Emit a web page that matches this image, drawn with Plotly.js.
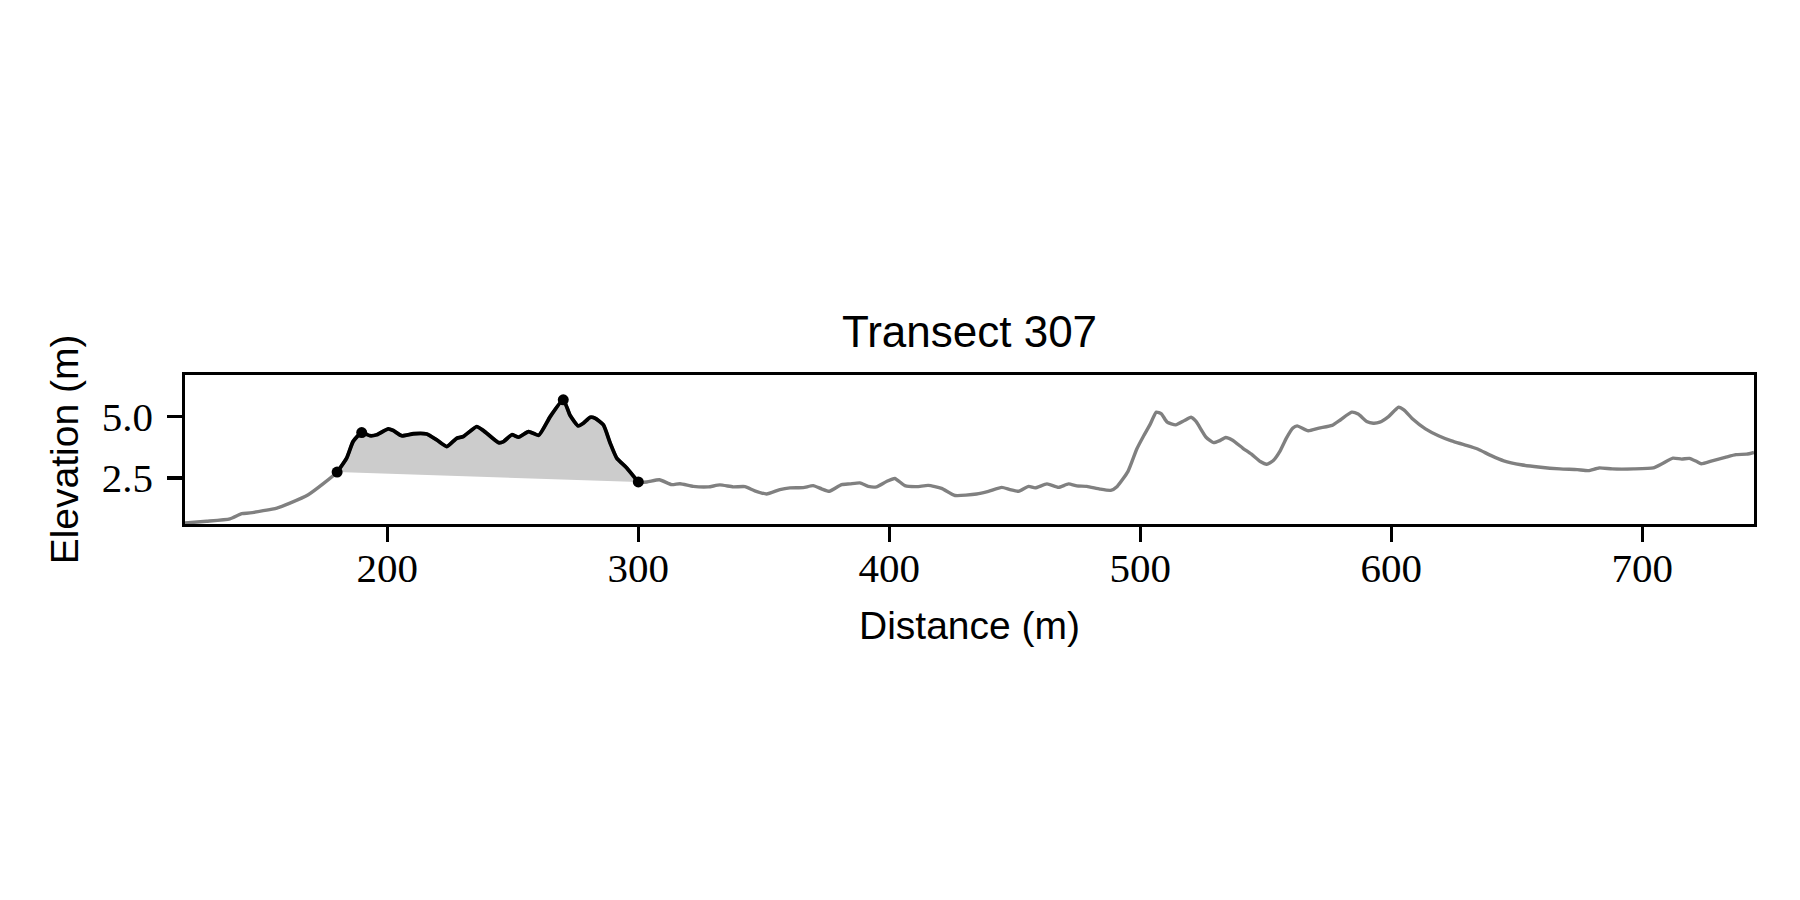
<!DOCTYPE html>
<html>
<head>
<meta charset="utf-8">
<script src="https://cdn.plot.ly/plotly-3.0.1.min.js"></script>
<style>html,body{margin:0;padding:0;background:#fff;}#chart{width:1800px;height:900px;}</style>
</head>
<body>
<div id="chart"></div>
<script>
// Transect profile: distance (m) and elevation (m)
const distance = [119.4,128,137.3,142,145.3,156,161.2,168.5,174.5,180,183.8,186.4,189.8,193.1,195.8,200.4,202.4,205.7,210.4,215.7,219.7,223.7,227.7,230.3,235.6,238.3,244.3,246.3,249.6,252.3,256.3,260.3,264.9,270.1,272.8,276.1,278.1,280.8,282.8,286.1,288.8,291.4,295.4,300,303.4,308.4,313.3,316.6,321.9,327.9,332.5,337.8,342.5,346.4,351.1,356.4,360.4,365.7,369.7,373,376.1,381,384.3,388.3,391.6,394.9,398.9,402.2,406.2,410.9,415.5,420.8,426.2,434.8,439.5,444.8,448.1,451.5,455.5,458.1,462.8,467.4,471.4,474.7,478.7,483.9,488.2,490.8,495.1,498.6,501.2,503.8,506.4,508.4,510.7,514.1,517.6,520.2,522.2,526.2,529.2,531.4,534,536.6,540.9,544.3,547.8,550.4,553,555.6,558.2,560.8,562.5,566.9,571.2,576.4,579.8,584.2,586.8,590.2,592.8,595.4,598.9,602.9,605,608.4,613.6,618.8,624,629.2,634.4,639.6,644.8,651.7,658.6,667.2,674.1,678.5,682.8,688,696.6,704.4,707.9,712.2,715.7,718.8,721.7,723.5,727.8,733,737.3,741.6,744.5];
const elevation = [0.67,0.74,0.84,1.05,1.08,1.28,1.48,1.82,2.27,2.74,3.31,3.99,4.35,4.22,4.26,4.5,4.43,4.22,4.3,4.29,4.05,3.78,4.12,4.19,4.59,4.43,3.94,3.98,4.26,4.16,4.39,4.24,5.0,5.68,5.05,4.62,4.73,4.97,4.93,4.66,3.92,3.31,2.91,2.34,2.34,2.43,2.23,2.27,2.16,2.14,2.22,2.14,2.15,1.98,1.85,2.03,2.1,2.11,2.19,2.06,1.96,2.23,2.26,2.3,2.16,2.14,2.36,2.48,2.19,2.15,2.2,2.08,1.79,1.85,1.96,2.12,2.03,1.96,2.16,2.1,2.26,2.12,2.26,2.18,2.16,2.05,2.0,2.16,2.77,3.68,4.19,4.66,5.18,5.11,4.77,4.66,4.84,4.97,4.8,4.16,3.94,4.01,4.15,4.05,3.71,3.47,3.17,3.06,3.21,3.58,4.12,4.53,4.62,4.42,4.53,4.64,4.87,5.18,5.1,4.8,4.73,4.77,5.0,5.38,5.27,4.91,4.5,4.22,4.01,3.85,3.68,3.42,3.2,3.04,2.95,2.87,2.84,2.8,2.91,2.87,2.87,2.91,3.08,3.31,3.27,3.3,3.17,3.08,3.2,3.34,3.45,3.47,3.54];
// Key points along the dune section
const keyDistance = [180, 189.8, 270.1, 300];
const keyElevation = [2.74, 4.35, 5.68, 2.34];
const titleText = "Transect 307";
const xLabel = "Distance (m)";
const yLabel = "Elevation (m)";
const xTicks = [200, 300, 400, 500, 600, 700];
const yTicks = [2.5, 5.0];

const segStart = keyDistance[0], segEnd = keyDistance[keyDistance.length - 1];
const segX = [], segY = [];
distance.forEach((d, i) => { if (d >= segStart && d <= segEnd) { segX.push(d); segY.push(elevation[i]); } });

const fillX = segX.concat([segEnd, segStart]);
const fillY = segY.concat([keyElevation[keyElevation.length - 1], keyElevation[0]]);

const traces = [
  {x: fillX, y: fillY, type: 'scatter', mode: 'lines', fill: 'toself', fillcolor: '#cccccc', line: {width: 0, color: 'rgba(0,0,0,0)'}, hoverinfo: 'skip'},
  {x: distance, y: elevation, type: 'scatter', mode: 'lines', line: {color: '#808080', width: 3.4, shape: 'spline', smoothing: 0.5}},
  {x: segX, y: segY, type: 'scatter', mode: 'lines', line: {color: '#000000', width: 3.8, shape: 'spline', smoothing: 0.5}},
  {x: keyDistance, y: keyElevation, type: 'scatter', mode: 'markers', marker: {color: '#000000', size: 11}}
];

const sans = '"Liberation Sans", Arial, sans-serif';
const serif = '"Liberation Serif", "Times New Roman", serif';

const layout = {
  width: 1800, height: 900,
  paper_bgcolor: '#ffffff', plot_bgcolor: '#ffffff',
  showlegend: false,
  margin: {l: 185, r: 46, t: 375, b: 376, pad: 0},
  title: {text: titleText, font: {family: sans, size: 44, color: '#000'}, x: 0.5, xanchor: 'center', xref: 'paper', y: 1 - 332/900, yref: 'container', yanchor: 'middle'},
  xaxis: {
    range: [119.4, 744.5], tickvals: xTicks, ticktext: xTicks.map(String),
    showgrid: false, zeroline: false, showline: true, linecolor: '#000', linewidth: 3.3, mirror: true,
    ticks: 'outside', ticklen: 14.6, tickwidth: 3.3, tickcolor: '#000',
    tickfont: {family: serif, size: 41, color: '#000'}, ticklabelstandoff: -9,
    title: {text: xLabel, font: {family: sans, size: 39, color: '#000'}, standoff: 22}
  },
  yaxis: {
    range: [0.63, 6.69], tickvals: yTicks, ticktext: yTicks.map(v => v.toFixed(1)),
    showgrid: false, zeroline: false, showline: true, linecolor: '#000', linewidth: 3.3, mirror: true,
    ticks: 'outside', ticklen: 14.6, tickwidth: 3.3, tickcolor: '#000',
    tickfont: {family: serif, size: 41, color: '#000'}, ticklabelstandoff: 6,
    title: {text: yLabel, font: {family: sans, size: 39, color: '#000'}, standoff: 12}
  }
};

Plotly.newPlot('chart', traces, layout, {displayModeBar: false, staticPlot: true});
</script>
</body>
</html>
